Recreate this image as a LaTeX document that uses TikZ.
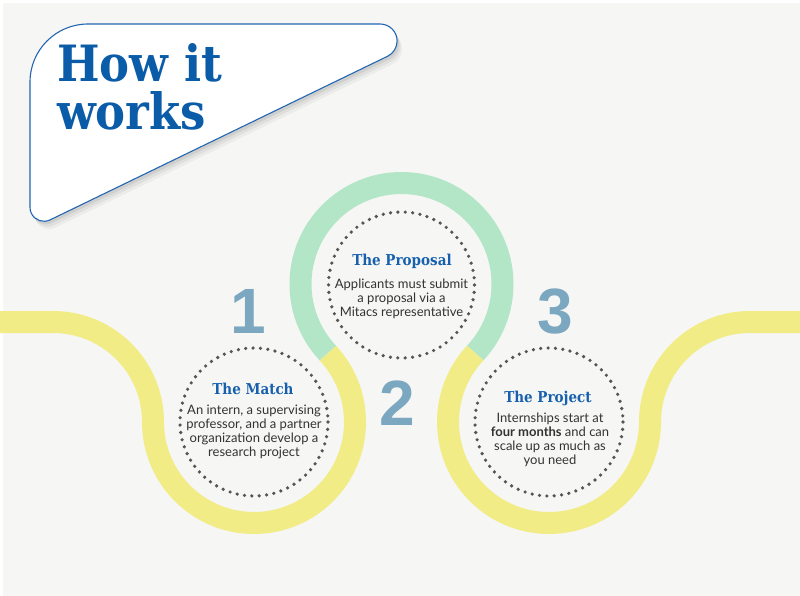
\documentclass[tikz,border=0pt]{standalone}
\usepackage{fontspec}
\setmainfont{Lato}
\newfontfamily\slab{DejaVu Serif}[FakeStretch=0.9]
\newfontfamily\digitfont{Liberation Sans}
\definecolor{bg}{HTML}{F6F6F4}
\definecolor{bandc}{HTML}{F2EC86}
\definecolor{ringc}{HTML}{B3E6C6}
\definecolor{numc}{HTML}{7BA7C0}
\definecolor{headc}{HTML}{1660AE}
\definecolor{titlec}{HTML}{0B5CA8}
\definecolor{bodyc}{HTML}{333333}
\definecolor{dotc}{HTML}{555555}
\definecolor{framec}{HTML}{2266B2}
\def\hwpath{(30,82) arc[start angle=180,end angle=270,radius=58] -- (380.1,24) arc[start angle=-90,end angle=64.14,radius=17] -- (50.1,219.9) arc[start angle=64.14,end angle=180,radius=14] -- cycle}
\begin{document}
\begin{tikzpicture}[x=1pt,y=-1pt,
  bandline/.style={draw=bandc,line width=22},
  ringline/.style={draw=ringc,line width=22},
  dotring/.style={draw=dotc,line width=3.6,line cap=round,dash pattern=on 0pt off 7.4pt},
  numstyle/.style={text=numc,font=\digitfont\bfseries\fontsize{64}{64}\selectfont,inner sep=0pt},
  headstyle/.style={text=headc,font=\slab\bfseries\fontsize{15}{15}\selectfont,inner sep=0pt},
  bodystyle/.style={text=bodyc,font=\fontsize{13}{14}\selectfont,align=center,inner sep=0pt},
  titlestyle/.style={text=titlec,font=\slab\bfseries\fontsize{50}{50}\selectfont,inner sep=0pt}]
\useasboundingbox (0,0) rectangle (800,596);
\fill[white] (0,0) rectangle (800,596);
\fill[bg] (3,3) rectangle (800,596);
\coordinate (C1) at (254,422);
\coordinate (C2) at (401.5,284);
\coordinate (C3) at (549,422);
% bands
\draw[bandline] (0,322) -- (53,322) arc[start angle=-90,end angle=0,radius=100]
   arc[start angle=180,end angle=-43.09,radius=101];
\draw[ringline] (C2) ++(136.91:101) arc[start angle=136.91,end angle=403.09,radius=101];
\draw[bandline] (C3) ++(223.09:101) arc[start angle=223.09,end angle=0,radius=101]
   arc[start angle=180,end angle=270,radius=100] -- (800,322);
% dotted circles
\draw[dotring] (254,422) circle[radius=74];
\draw[dotring] (401.5,285) circle[radius=73];
\draw[dotring] (549,422) circle[radius=74];
% title box
\fill[black,opacity=0.04] [shift={(5,8)}] \hwpath;
\fill[black,opacity=0.05] [shift={(3.5,5.5)}] \hwpath;
\fill[black,opacity=0.07] [shift={(2,3)}] \hwpath;
\filldraw[fill=white,draw=framec,line width=1.1] \hwpath;
\node[titlestyle,anchor=base west] (t1) at (57,82) {How it};
\node[titlestyle,anchor=base west] (t2) at (57,130) {works};
% numbers
\node[numstyle,anchor=base] (n1) at (248,333) {1};
\node[numstyle,anchor=base] (n2) at (397.5,425) {2};
\node[numstyle,anchor=base] (n3) at (555,333) {3};
% texts
\node[headstyle] (h1) at (253,389) {The Match};
\node[bodystyle] (b1) at (254,432) {An intern, a supervising\\professor, and a partner\\organization develop a\\research project};
\node[headstyle] (h2) at (402,261) {The Proposal};
\node[bodystyle] (b2) at (401.5,299) {Applicants must submit\\a proposal via a\\Mitacs representative};
\node[headstyle] (h3) at (548,398) {The Project};
\node[bodystyle] (b3) at (550,440) {Internships start at\\\textbf{four months} and can\\scale up as much as\\you need};
\end{tikzpicture}
\end{document}
